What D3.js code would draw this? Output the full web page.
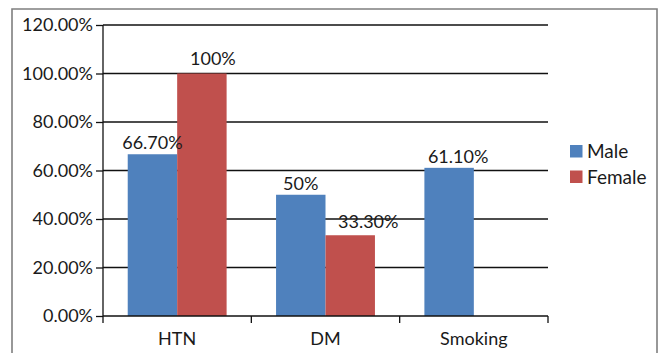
<!DOCTYPE html>
<html>
<head>
<meta charset="utf-8">
<script src="https://cdn.jsdelivr.net/npm/d3@7"></script>
<style>
  body { margin: 0; background: #fff; }
  svg { display: block; }
  text { font-family: Lato, "Open Sans", sans-serif; fill: #1a1a1a; }
</style>
</head>
<body>
<svg id="chart" width="663" height="353"></svg>
<script>
var categories = ['HTN', 'DM', 'Smoking']
var series = ['Male', 'Female']
var maleValues = [66.7, 50, 61.1]
var femaleValues = [100, 33.3, null]
var maleLabels = ['66.70%', '50%', '61.10%']
var femaleLabels = ['100%', '33.30%', '']
var yTicks = [0, 20, 40, 60, 80, 100, 120]

var colors = { Male: '#4f81bd', Female: '#c0504d' }
// label nudges (px) - the labels in the original were dragged around a bit
var labelNudge = {
    Male: [[0, 0], [0, 0], [9, 0]],
    Female: [[11, -4], [18, -2], [0, 0]]
}
var fontSize = '18px'

var svg = d3.select('#chart')
var plotL = 103, plotR = 548, plotT = 25, plotB = 316

// outer frame (bottom edge is cropped in the original)
svg.append('path')
    .attr('d', 'M12,360 L12,9 L657,9 L657,360')
    .attr('fill', 'none')
    .attr('stroke', '#7f7f7f')
    .attr('stroke-width', 1.6)

var x = d3.scaleBand().domain(categories).range([plotL, plotR]).padding(0)
var xs = d3.scaleBand().domain(series).range([0, x.bandwidth()]).paddingInner(0).paddingOuter(0.5)
var y = d3.scaleLinear().domain([0, 120]).range([plotB, plotT])

// gridlines
svg.append('g').selectAll('line')
    .data(yTicks.slice(1))
    .join('line')
    .attr('x1', plotL).attr('x2', plotR)
    .attr('y1', d => y(d)).attr('y2', d => y(d))
    .attr('stroke', '#111')
    .attr('stroke-width', 1.3)

var rows = []
categories.forEach(function (c, i) {
    rows.push({ cat: c, s: 'Male', v: maleValues[i], label: maleLabels[i], nudge: labelNudge.Male[i] })
    rows.push({ cat: c, s: 'Female', v: femaleValues[i], label: femaleLabels[i], nudge: labelNudge.Female[i] })
})
rows = rows.filter(d => d.v != null)

svg.append('g').selectAll('rect')
    .data(rows)
    .join('rect')
    .attr('x', d => x(d.cat) + xs(d.s))
    .attr('width', xs.bandwidth())
    .attr('y', d => y(d.v))
    .attr('height', d => y(0) - y(d.v))
    .attr('fill', d => colors[d.s])

svg.append('g').selectAll('text')
    .data(rows)
    .join('text')
    .attr('x', d => x(d.cat) + xs(d.s) + xs.bandwidth() / 2 + d.nudge[0])
    .attr('y', d => y(d.v) - 5 + d.nudge[1])
    .attr('text-anchor', 'middle')
    .style('font-size', fontSize)
    .text(d => d.label)

// y axis
var yAxis = d3.axisLeft(y)
    .tickValues(yTicks)
    .tickFormat(d => d3.format('.2f')(d) + '%')
    .tickSize(7)
    .tickPadding(3)
var gy = svg.append('g').attr('transform', 'translate(' + plotL + ',0)').call(yAxis)
gy.select('.domain').attr('stroke', '#111').attr('stroke-width', 1.3).attr('d', 'M0,' + plotT + 'V' + plotB)
gy.selectAll('.tick line').attr('stroke', '#111').attr('stroke-width', 1.3)
gy.selectAll('.tick text').attr('fill', '#1a1a1a').style('font-size', fontSize).style('font-family', 'Lato, "Open Sans", sans-serif')

// x axis with ticks at the category boundaries
var xAxis = d3.axisBottom(x).tickSize(0).tickPadding(16)
var gx = svg.append('g').attr('transform', 'translate(0,' + plotB + ')').call(xAxis)
gx.select('.domain').remove()
gx.append('line').attr('x1', plotL).attr('x2', plotR).attr('stroke', '#111').attr('stroke-width', 1.3)
gx.selectAll('.sep')
    .data(categories.map(c => x(c)).concat([plotR]))
    .join('line')
    .attr('class', 'sep')
    .attr('x1', d => d).attr('x2', d => d)
    .attr('y1', 0).attr('y2', 7)
    .attr('stroke', '#111').attr('stroke-width', 1.3)
gx.selectAll('.tick text').attr('fill', '#1a1a1a').style('font-size', fontSize).style('font-family', 'Lato, "Open Sans", sans-serif')

// legend
var legend = svg.append('g').attr('transform', 'translate(570,145)')
var li = legend.selectAll('g').data(series).join('g')
    .attr('transform', (d, i) => 'translate(0,' + i * 25.5 + ')')
li.append('rect').attr('width', 12.5).attr('height', 12.5).attr('fill', d => colors[d])
li.append('text').attr('x', 17).attr('y', 6.5).attr('dy', '0.35em')
    .style('font-size', '19px')
    .text(d => d)
</script>
</body>
</html>
